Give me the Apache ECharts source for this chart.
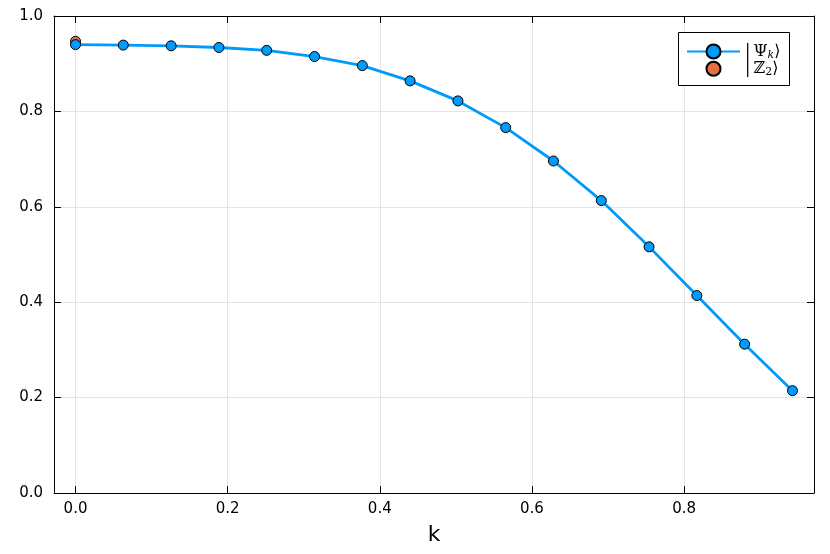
<!DOCTYPE html>
<html>
<head>
<meta charset="utf-8">
<script src="https://cdn.jsdelivr.net/npm/echarts@6/dist/echarts.min.js"></script>
<style>html,body{margin:0;padding:0;background:#fff}#c{width:830px;height:554px}</style>
</head>
<body>
<div id="c"></div>
<script>
// k values: 2*pi*n/100, n = 0..15
const kValues = [0.0000, 0.0628, 0.1257, 0.1885, 0.2513, 0.3142, 0.3770, 0.4398, 0.5027, 0.5655, 0.6283, 0.6912, 0.7540, 0.8168, 0.8796, 0.9425];
const psiValues = [0.940, 0.939, 0.9375, 0.934, 0.928, 0.915, 0.896, 0.864, 0.822, 0.766, 0.696, 0.613, 0.516, 0.414, 0.312, 0.2146];
const z2K = [0.0];
const z2Values = [0.947];
const xTicks = [0, 0.2, 0.4, 0.6, 0.8];
const yTicks = [0, 0.2, 0.4, 0.6, 0.8, 1.0];
const seriesNames = ['Psi', 'Z2'];

const xMin = -0.0283, xMax = 0.9708;

const chart = echarts.init(document.getElementById('c'));
const tickFont = {fontFamily: 'DejaVu Sans', fontSize: 15, color: '#000'};
const commonAxis = {
  axisLine: {show: true, onZero: false, lineStyle: {color: '#000', width: 1}},
  axisTick: {show: true, inside: true, length: 7, lineStyle: {color: '#000', width: 1}},
};
const legendText = {
  color: '#000', padding: [0, 0, 0, 0],
  rich: {
    n: {fontFamily: 'DejaVu Serif', fontSize: 16, color: '#000'},
    s: {fontFamily: 'DejaVu Serif', fontSize: 11, color: '#000', verticalAlign: 'bottom', padding: [7, 0, 0, 0]},
    si: {fontFamily: 'DejaVu Serif', fontSize: 11, fontStyle: 'italic', color: '#000', verticalAlign: 'bottom', padding: [7, 0, 0, 0]}
  }
};
const legendFormatter = function (name) {
  if (name === 'Psi') return '{n||\u2009Ψ}{si|k}{n|⟩}';
  return '{n||\u2009ℤ}{s|2}{n|⟩}';
};
// smaller circle inside a 53 x 17.5 icon box
const smallCircleIcon = 'path://M0,0L0,0M53,17.5L53,17.5M19.5,8.75A7,7 0 1,1 33.5,8.75A7,7 0 1,1 19.5,8.75Z';
chart.setOption({
  animation: false,
  backgroundColor: '#fff',
  grid: {left: 54, right: 16, top: 16, bottom: 61, containLabel: false},
  graphic: [{
    type: 'rect', z: 3, left: 678, top: 32,
    shape: {width: 111, height: 53},
    style: {fill: '#fff', stroke: '#000', lineWidth: 1}
  }],
  xAxis: [{
    type: 'value', min: xMin, max: xMax, position: 'bottom',
    name: 'k', nameLocation: 'middle', nameGap: 31,
    nameTextStyle: {fontFamily: 'DejaVu Sans', fontSize: 22, color: '#000'},
    axisLine: commonAxis.axisLine,
    axisTick: Object.assign({}, commonAxis.axisTick, {customValues: xTicks}),
    axisLabel: Object.assign({}, tickFont, {customValues: xTicks, margin: 9, formatter: v => v.toFixed(1)}),
    splitLine: {show: true, lineStyle: {color: '#e4e4e4', width: 1}}
  }, {
    type: 'value', min: xMin, max: xMax, position: 'top',
    axisLine: commonAxis.axisLine,
    axisTick: Object.assign({}, commonAxis.axisTick, {customValues: xTicks}),
    axisLabel: {show: false, customValues: xTicks},
    splitLine: {show: false}
  }],
  yAxis: [{
    type: 'value', min: 0, max: 1, position: 'left',
    axisLine: commonAxis.axisLine,
    axisTick: Object.assign({}, commonAxis.axisTick, {customValues: yTicks}),
    axisLabel: Object.assign({}, tickFont, {customValues: yTicks, margin: 11, formatter: v => v.toFixed(1)}),
    splitLine: {show: true, lineStyle: {color: '#e4e4e4', width: 1}}
  }, {
    type: 'value', min: 0, max: 1, position: 'right',
    axisLine: commonAxis.axisLine,
    axisTick: Object.assign({}, commonAxis.axisTick, {customValues: yTicks}),
    axisLabel: {show: false, customValues: yTicks},
    splitLine: {show: false}
  }],
  legend: {
    left: 686, top: 43.5, orient: 'vertical', z: 5,
    padding: 0, itemWidth: 53, itemHeight: 17.5, itemGap: -1.5,
    data: [{name: seriesNames[0]}, {name: seriesNames[1], icon: smallCircleIcon}],
    formatter: legendFormatter, textStyle: legendText
  },
  series: [{
    name: 'Psi', type: 'line', xAxisIndex: 0, yAxisIndex: 0,
    data: kValues.map((k, i) => [k, psiValues[i]]),
    symbol: 'circle', symbolSize: 10, showSymbol: true,
    lineStyle: {color: '#009afa', width: 2.8},
    itemStyle: {color: '#009afa', borderColor: '#000', borderWidth: 1}
  }, {
    name: 'Z2', type: 'scatter', xAxisIndex: 0, yAxisIndex: 0,
    data: z2K.map((k, i) => [k, z2Values[i]]),
    symbol: 'circle', symbolSize: 10,
    itemStyle: {color: '#e26f46', borderColor: '#000', borderWidth: 1, opacity: 1}
  }]
});
</script>
</body>
</html>
